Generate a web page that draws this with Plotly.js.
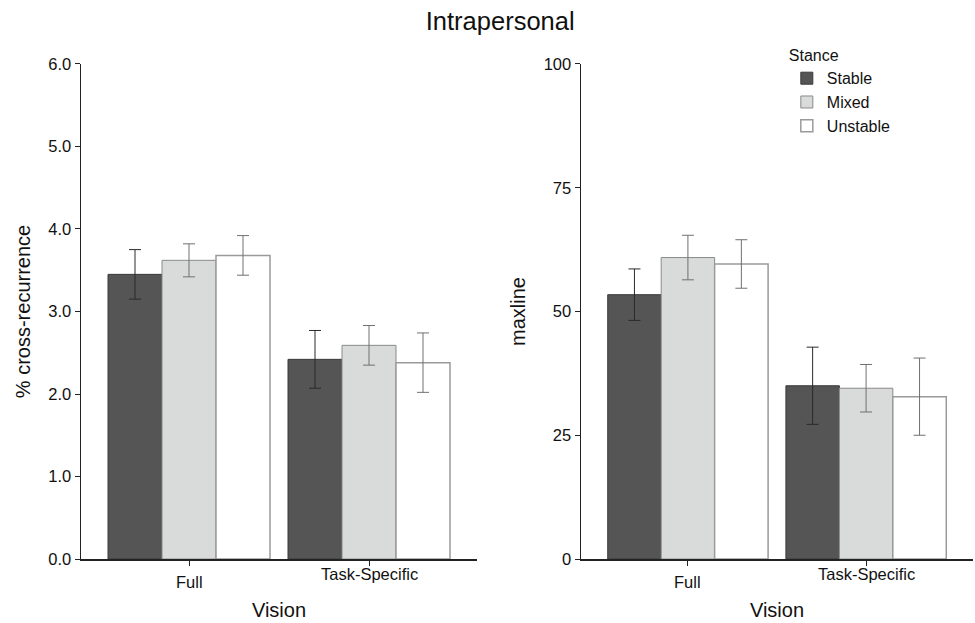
<!DOCTYPE html>
<html>
<head>
<meta charset="utf-8">
<script src="https://cdn.plot.ly/plotly-3.0.1.min.js"></script>
<style>html,body{margin:0;padding:0;background:#fff;}#chart{width:975px;height:623px;}</style>
</head>
<body>
<div id="chart"></div>
<script>
const categories = ["Full", "Task-Specific"];
const stances = ["Stable", "Mixed", "Unstable"];

const crStable = [3.45, 2.42];
const crStableErr = [0.30, 0.35];
const crMixed = [3.62, 2.59];
const crMixedErr = [0.20, 0.24];
const crUnstable = [3.68, 2.38];
const crUnstableErr = [0.24, 0.36];

const mlStable = [53.4, 35.0];
const mlStableErr = [5.2, 7.8];
const mlMixed = [60.9, 34.5];
const mlMixedErr = [4.5, 4.8];
const mlUnstable = [59.6, 32.8];
const mlUnstableErr = [4.9, 7.8];

const yTicksLeft = [0, 1, 2, 3, 4, 5, 6];
const yTicksRight = [0, 25, 50, 75, 100];

const styles = {
  Stable: {fill: "#555555", line: "#3a3a3a", err: "#2a2a2a", lw: 1},
  Mixed: {fill: "#d9dada", line: "#8a8a8a", err: "#707070", lw: 1},
  Unstable: {fill: "#ffffff", line: "#9a9a9a", err: "#707070", lw: 1.5}
};

function bar(name, y, err, xa, ya, showleg) {
  const s = styles[name];
  return {
    type: "bar", name: name, x: categories, y: y,
    xaxis: xa, yaxis: ya, legendgroup: name, showlegend: showleg,
    marker: {color: s.fill, line: {color: s.line, width: s.lw}},
    error_y: {type: "data", array: err, visible: true, color: s.err, thickness: 1, width: 6},
    hoverinfo: "y"
  };
}

const data = [
  bar("Stable", crStable, crStableErr, "x", "y", true),
  bar("Mixed", crMixed, crMixedErr, "x", "y", true),
  bar("Unstable", crUnstable, crUnstableErr, "x", "y", true),
  bar("Stable", mlStable, mlStableErr, "x2", "y2", false),
  bar("Mixed", mlMixed, mlMixedErr, "x2", "y2", false),
  bar("Unstable", mlUnstable, mlUnstableErr, "x2", "y2", false)
];

const font = "Liberation Sans, Arial, Helvetica, sans-serif";
const yDom = [0.1027, 0.8973];

function xAxis(dom) {
  return {
    domain: dom, range: [-0.6, 1.6], type: "category",
    showline: true, linecolor: "#222", linewidth: 1.5,
    ticks: "outside", ticklen: 5, tickcolor: "#222", tickwidth: 1,
    showticklabels: false, showgrid: false, zeroline: false, fixedrange: true,
    title: {text: "Vision", font: {size: 20, color: "#111", family: font}, standoff: 38}
  };
}
function yAxis(range, ticks, fmt, title, anchor) {
  return {
    domain: yDom, range: range, anchor: anchor,
    tickvals: ticks, tickformat: fmt,
    showline: true, linecolor: "#222", linewidth: 1.5,
    ticks: "outside", ticklen: 5, tickcolor: "#222", tickwidth: 1,
    tickfont: {size: 16.5, color: "#111", family: font},
    showgrid: false, zeroline: false, fixedrange: true,
    title: {text: title, font: {size: 20, color: "#111", family: font}, standoff: 12}
  };
}

const annotations = [];
const labelY = [0.0658, 0.0787];
["x", "x2"].forEach(xa => {
  categories.forEach((c, i) => {
    annotations.push({
      x: c, xref: xa, y: labelY[i], yref: "paper", text: c, showarrow: false,
      xanchor: "center", yanchor: "middle",
      font: {size: 16.5, color: "#111", family: font}
    });
  });
});

const layout = {
  width: 975, height: 623,
  margin: {l: 0, r: 0, t: 0, b: 0},
  paper_bgcolor: "#fff", plot_bgcolor: "#fff",
  font: {family: font, color: "#111"},
  title: {text: "Intrapersonal", x: 0.513, xanchor: "center", y: 0.966, yanchor: "middle",
          font: {size: 25.5, color: "#111", family: font}},
  barmode: "group", bargap: 0.1, bargroupgap: 0,
  xaxis: xAxis([81 / 975, 477 / 975]),
  yaxis: yAxis([0, 6], yTicksLeft, ".1f", "% cross-recurrence", "x"),
  xaxis2: xAxis([581 / 975, 973 / 975]),
  yaxis2: yAxis([0, 100], yTicksRight, "d", "maxline", "x2"),
  legend: {
    x: 0.807, y: 0.935, xanchor: "left", yanchor: "top",
    title: {text: "Stance", font: {size: 16, color: "#111", family: font}},
    font: {size: 16, color: "#111", family: font},
    traceorder: "normal", bgcolor: "rgba(0,0,0,0)", borderwidth: 0
  },
  annotations: annotations,
  showlegend: true
};

Plotly.newPlot("chart", data, layout, {displayModeBar: false, staticPlot: true});
</script>
</body>
</html>
